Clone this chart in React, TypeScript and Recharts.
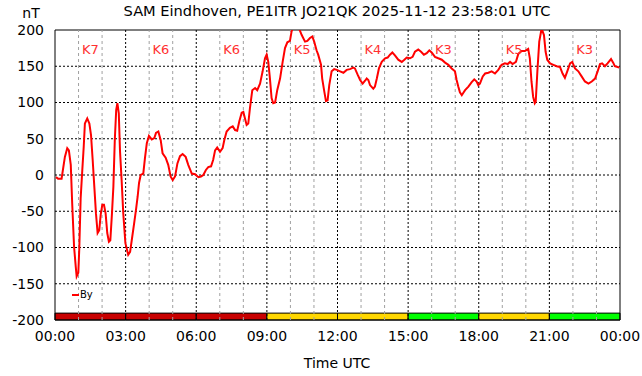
import { LineChart, Line, XAxis, YAxis, ReferenceLine, ReferenceArea, Legend } from 'recharts';

// By component in nT (time in hours UTC)
const hours = [
  0.04, 0.13, 0.28, 0.35, 0.42, 0.52, 0.59, 0.67, 0.73, 0.81, 0.88, 0.92, 0.99, 1.03, 1.09, 1.16,
  1.22, 1.27, 1.37, 1.46, 1.53, 1.6, 1.67, 1.74, 1.81, 1.88, 1.94, 2.01, 2.08, 2.15, 2.22, 2.29,
  2.35, 2.42, 2.48, 2.54, 2.6, 2.65, 2.71, 2.76, 2.83, 2.9, 2.99, 3.11, 3.19, 3.26, 3.36, 3.44,
  3.51, 3.57, 3.64, 3.75, 3.82, 3.9, 3.99, 4.11, 4.22, 4.29, 4.39, 4.49, 4.57, 4.7, 4.81, 4.91,
  5.0, 5.1, 5.2, 5.31, 5.42, 5.55, 5.66, 5.81, 5.95, 6.09, 6.2, 6.3, 6.41, 6.51, 6.63, 6.72,
  6.8, 6.89, 7.01, 7.12, 7.19, 7.29, 7.43, 7.55, 7.65, 7.74, 7.83, 7.93, 8.0, 8.07, 8.14, 8.21,
  8.28, 8.38, 8.5, 8.59, 8.71, 8.82, 8.92, 8.99, 9.06, 9.13, 9.2, 9.27, 9.35, 9.44, 9.56, 9.67,
  9.77, 9.87, 9.98, 10.05, 10.12, 10.33, 10.48, 10.62, 10.72, 10.83, 10.93, 11.01, 11.11, 11.18,
  11.3, 11.35, 11.44, 11.51, 11.58, 11.65, 11.75, 11.86, 11.97, 12.11, 12.25, 12.39, 12.53, 12.67,
  12.74, 12.86, 12.96, 13.07, 13.17, 13.24, 13.31, 13.38, 13.52, 13.59, 13.67, 13.76, 13.88, 14.02,
  14.13, 14.23, 14.33, 14.44, 14.58, 14.73, 14.84, 14.94, 15.08, 15.19, 15.29, 15.43, 15.55, 15.67,
  15.79, 15.9, 16.0, 16.14, 16.28, 16.43, 16.57, 16.71, 16.85, 16.99, 17.06, 17.13, 17.2, 17.28,
  17.34, 17.42, 17.56, 17.7, 17.81, 17.91, 17.98, 18.05, 18.17, 18.27, 18.41, 18.55, 18.69, 18.83,
  18.97, 19.11, 19.23, 19.33, 19.44, 19.58, 19.68, 19.82, 19.96, 20.1, 20.17, 20.24, 20.31, 20.38,
  20.42, 20.49, 20.57, 20.67, 20.77, 20.84, 20.91, 21.03, 21.17, 21.31, 21.45, 21.56, 21.66, 21.76,
  21.88, 21.97, 22.09, 22.23, 22.37, 22.51, 22.66, 22.8, 22.94, 23.05, 23.15, 23.24, 23.36, 23.47,
  23.62, 23.71, 23.78, 23.9, 23.97,
];
const byValues = [
  -3, -5, -5, 10, 25, 37, 34, 14, -39, -99, -126, -140, -135, -103, -32, 7,
  39, 71, 78, 71, 55, 21, -16, -53, -80, -76, -55, -41, -41, -53, -80, -92,
  -90, -53, -16, 48, 90, 99, 85, 34, -7, -53, -94, -110, -106, -90, -67, -48,
  -30, -11, 0, 2, 23, 44, 54, 49, 51, 58, 60, 48, 30, 24, 14, -2,
  -7, -2, 16, 26, 29, 25, 14, 2, 1, -3, -2, 0, 7, 11, 12, 21,
  34, 38, 32, 37, 48, 60, 65, 67, 62, 61, 74, 86, 87, 78, 69, 71,
  92, 117, 120, 117, 126, 143, 161, 166, 156, 133, 106, 99, 100, 117, 133, 156,
  175, 183, 185, 198, 205, 205, 193, 184, 185, 189, 191, 184, 172, 166,
  152, 133, 115, 102, 103, 124, 143, 146, 145, 143, 141, 145, 146, 148,
  147, 138, 131, 126, 130, 133, 131, 124, 119, 122, 133, 147, 156, 161,
  162, 166, 169, 165, 159, 156, 159, 162, 161, 163, 170, 173, 170, 166,
  168, 172, 169, 163, 161, 159, 155, 152, 147, 143, 131, 122, 114, 110,
  113, 117, 122, 128, 132, 129, 124, 126, 136, 140, 141, 143, 140, 145,
  152, 154, 153, 156, 153, 156, 167, 171, 171, 174, 161, 129, 108, 99,
  101, 143, 184, 202, 193, 170, 159, 154, 152, 150, 149, 140, 134, 143,
  154, 156, 147, 143, 136, 129, 126, 129, 133, 143, 153, 154, 150, 154,
  160, 155, 150, 149, 148,
];

// K index per 3-hour block
const kIndex = [7, 6, 6, 5, 4, 3, 5, 3];

const xTicks = [0, 3, 6, 9, 12, 15, 18, 21, 24];
const xTickLabels = ['00:00', '03:00', '06:00', '09:00', '12:00', '15:00', '18:00', '21:00', '00:00'];
const yTicks = [-200, -150, -100, -50, 0, 50, 100, 150, 200];
const minorHours = [1, 2, 4, 5, 7, 8, 10, 11, 13, 14, 16, 17, 19, 20, 22, 23];

const data = hours.map((h, i) => ({ h, by: byValues[i] }));

const kColor = (k: number) => (k >= 6 ? '#c80000' : k >= 4 ? '#ffd700' : '#00ff00');

const font = "'DejaVu Sans', sans-serif";

export default function App() {
  return (
    <div style={{ position: 'absolute', left: 0, top: 0, width: 642, height: 376, background: '#fff', fontFamily: font }}>
      <div style={{ position: 'absolute', left: 0, width: 674, top: 3.2, lineHeight: '16px', fontSize: 14.6, textAlign: 'center' }}>
        SAM Eindhoven, PE1ITR JO21QK 2025-11-12 23:58:01 UTC
      </div>
      <div style={{ position: 'absolute', left: 10, width: 42, top: 5.3, lineHeight: '16px', fontSize: 14, textAlign: 'center' }}>
        nT
      </div>
      <div style={{ position: 'absolute', left: 0, width: 674, top: 354.7, lineHeight: '16px', fontSize: 14, textAlign: 'center' }}>
        Time UTC
      </div>
      <LineChart width={642} height={376} data={data} margin={{ top: 30, right: 22, bottom: 26, left: 0 }}>
        <XAxis
          dataKey="h"
          type="number"
          domain={[0, 24]}
          ticks={xTicks}
          tickFormatter={(v: number) => xTickLabels[xTicks.indexOf(v)]}
          interval={0}
          height={30}
          axisLine={false}
          tickLine={false}
          tickSize={0}
          tickMargin={11}
          tick={{ fill: '#000', fontSize: 14, fontFamily: font }}
        />
        <YAxis
          type="number"
          domain={[-200, 200]}
          ticks={yTicks}
          allowDataOverflow
          interval={0}
          width={55}
          axisLine={false}
          tickLine={false}
          tickSize={0}
          tickMargin={11}
          tick={{ fill: '#000', fontSize: 14, fontFamily: font }}
        />
        {minorHours.map((h) => (
          <ReferenceLine key={'m' + h} x={h} stroke="#a0a0a0" strokeDasharray="3 3" />
        ))}
        {xTicks.slice(1, -1).map((h) => (
          <ReferenceLine key={'x' + h} x={h} stroke="#000" strokeDasharray="2 2" />
        ))}
        {yTicks.slice(1, -1).map((v) => (
          <ReferenceLine key={'y' + v} y={v} stroke="#000" strokeDasharray="2 2" />
        ))}
        {kIndex.map((k, i) => (
          <ReferenceArea
            key={'b' + i}
            x1={i * 3}
            x2={i * 3 + 3}
            y1={-200}
            y2={-190.5}
            fill={kColor(k)}
            fillOpacity={1}
            stroke="#000"
            strokeWidth={1}
          />
        ))}
        {kIndex.map((k, i) => (
          <ReferenceArea
            key={'k' + i}
            x1={i * 3}
            x2={i * 3 + 3}
            y1={162}
            y2={184}
            fill="none"
            stroke="none"
            label={{ value: 'K' + k, position: 'center', fill: '#ff3030', fontSize: 13, fontFamily: font }}
          />
        ))}
        <ReferenceArea x1={0} x2={24} y1={-200} y2={200} fill="none" stroke="#000" strokeWidth={1} />
        <Legend
          layout="horizontal"
          verticalAlign="middle"
          align="center"
          wrapperStyle={{ left: 72, top: 288, width: 40 }}
          content={() => (
            <div style={{ display: 'flex', alignItems: 'center', fontSize: 10, fontFamily: font, lineHeight: '14px' }}>
              <span style={{ display: 'inline-block', width: 7, height: 2, background: '#ff0000', marginRight: 1 }} />
              By
            </div>
          )}
        />
        <Line
          dataKey="by"
          name="By"
          type="linear"
          stroke="#ff0000"
          strokeWidth={2}
          dot={false}
          isAnimationActive={false}
        />
      </LineChart>
    </div>
  );
}
